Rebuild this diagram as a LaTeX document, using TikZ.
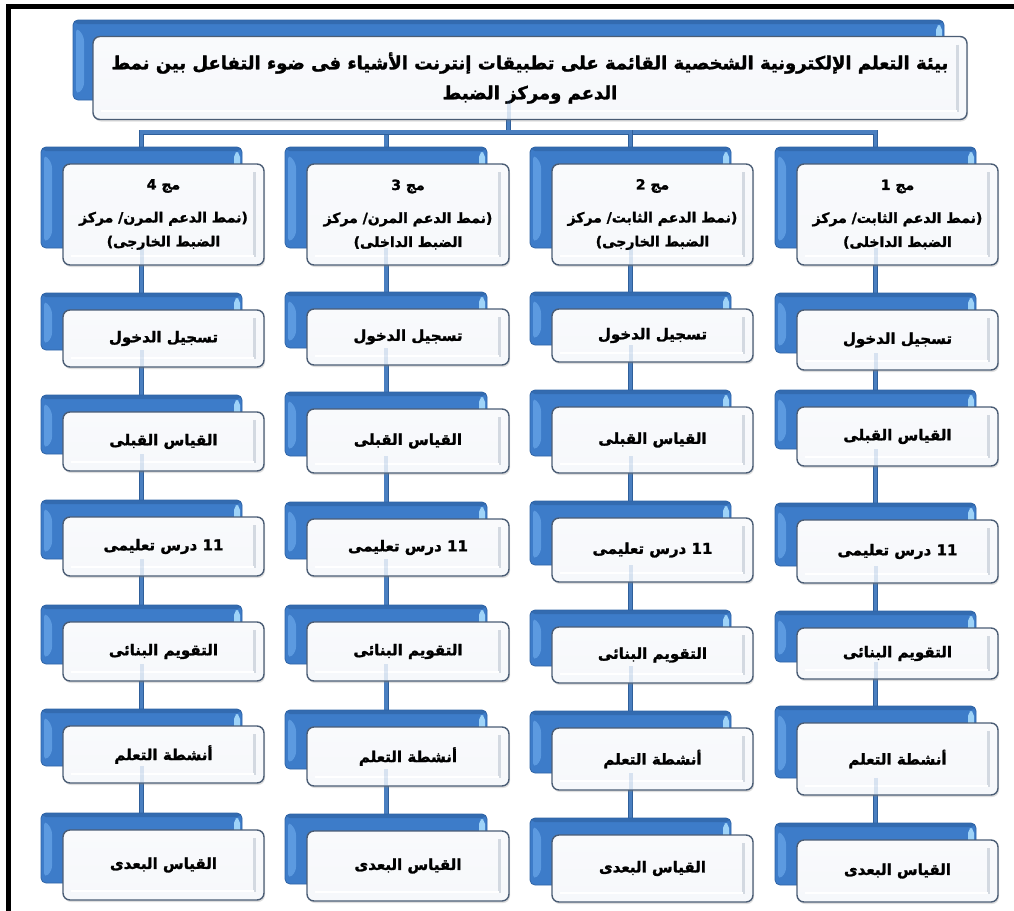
\documentclass[tikz,border=0pt]{standalone}
\usepackage{fontspec}
\TeXXeTstate=1
\newfontfamily\arabicfont[Script=Arabic, BoldFeatures={FakeBold=1.6}]{DejaVu Sans}
\usetikzlibrary{shadows}
\definecolor{bluefill}{HTML}{3D7CC9}
\definecolor{blueedge}{HTML}{2F64A6}
\definecolor{bluelight}{HTML}{9ED3F8}
\definecolor{bluebevel}{HTML}{5C9AE0}
\definecolor{whitetop}{HTML}{F9FAFC}
\definecolor{whitemid}{HTML}{E6ECF5}
\definecolor{whitebot}{HTML}{F6F8FB}
\definecolor{whiteedge}{HTML}{4B5D75}
\definecolor{bevelgray}{HTML}{D3D9E1}
\definecolor{connblue}{HTML}{4A7FC0}
\definecolor{connedge}{HTML}{2F5F9A}
\newcommand\artxt[1]{\beginR #1\endR}
\pgfdeclarelayer{back}
\pgfdeclarelayer{bg}
\pgfsetlayers{back,bg,main}
\tikzset{
  bluebox/.style={draw=blueedge, line width=0.8pt, fill=bluefill, rounded corners=5pt,
    inner sep=0pt, outer sep=0pt,
    path picture={
      \fill[bluebevel] ([xshift=3pt,yshift=-7pt]path picture bounding box.north west) --
        ([xshift=11pt,yshift=-16pt]path picture bounding box.north west) --
        ([xshift=11pt,yshift=12pt]path picture bounding box.south west) --
        ([xshift=3pt,yshift=5pt]path picture bounding box.south west) -- cycle;
      \fill[bluelight] ([xshift=-8pt,yshift=-5pt]path picture bounding box.north east) rectangle
        ([xshift=-2pt,yshift=5pt]path picture bounding box.south east);
      \fill[blueedge!70!bluefill] (path picture bounding box.north west) rectangle
        ([yshift=-4pt]path picture bounding box.north east);
    }},
  whitebox/.style={draw=whiteedge, line width=1.4pt, rounded corners=7pt,
    top color=whitetop, middle color=whitemid, bottom color=whitebot,
    inner sep=2pt, outer sep=0pt, align=center, text=black,
    drop shadow={opacity=0.25, shadow xshift=1pt, shadow yshift=-2pt},
    path picture={
      \draw[bevelgray, line width=3pt] ([xshift=-10pt,yshift=-8pt]path picture bounding box.north east) --
        ([xshift=-10pt,yshift=8pt]path picture bounding box.south east);
      \draw[white, line width=2pt] ([xshift=8pt,yshift=9pt]path picture bounding box.south west) --
        ([xshift=-10pt,yshift=9pt]path picture bounding box.south east);
    }},
  conn/.style={draw=connedge, line width=0.8pt, double=connblue, double distance=3.4pt},
  faintconn/.style={draw=connblue, line width=4pt, opacity=0.18},
  lbl/.style={font=\arabicfont\bfseries\fontsize{15}{20}\selectfont},
  grp/.style={font=\arabicfont\bfseries\fontsize{14}{24}\selectfont},
  ttl/.style={font=\arabicfont\bfseries\fontsize{18}{30}\selectfont},
}
% #1 name suffix, #2 left, #3 right, #4 top, #5 bottom, #6 style, #7 text
\newcommand\mkpair[7]{%
  \pgfmathsetmacro\cx{(#2+#3)/2}%
  \pgfmathsetmacro\cy{(#4+#5)/2}%
  \pgfmathsetmacro\ww{#3-#2}%
  \pgfmathsetmacro\hh{#5-#4}%
  \node[bluebox, minimum width=\ww pt, minimum height=\hh pt] (b#1) at (\cx-22,\cy-17) {};
  \node[whitebox, #6, minimum width=\ww pt, minimum height=\hh pt] (w#1) at (\cx,\cy) {#7};
}
\begin{document}
\begin{tikzpicture}[x=1pt,y=-1pt]
\useasboundingbox (0,0) rectangle (1014,910);
\begin{pgfonlayer}{back}
\fill[white] (0,0) rectangle (1014,910);
\end{pgfonlayer}
% frame
\draw[black, line width=5.5pt] (8.5,915) -- (8.5,6.5) -- (1020,6.5);

% title
\node[bluebox, minimum width=871pt, minimum height=80pt] (tb) at (508.5,60) {};
\node[whitebox, ttl, minimum width=874pt, minimum height=83pt] (tw) at (530,78)
  {\artxt{بيئة التعلم الإلكترونية الشخصية القائمة على تطبيقات إنترنت الأشياء فى ضوء التفاعل بين نمط}\\
   \artxt{الدعم ومركز الضبط}};

% groups row
\mkpair{10}{797}{998}{164}{265}{grp}{\artxt{مج 1}\\[9pt]\artxt{(نمط الدعم الثابت/ مركز}\\\artxt{الضبط الداخلى)}}
\mkpair{20}{552}{753}{164}{265}{grp}{\artxt{مج 2}\\[9pt]\artxt{(نمط الدعم الثابت/ مركز}\\\artxt{الضبط الخارجى)}}
\mkpair{30}{307}{509}{164}{265}{grp}{\artxt{مج 3}\\[9pt]\artxt{(نمط الدعم المرن/ مركز}\\\artxt{الضبط الداخلى)}}
\mkpair{40}{63}{264}{164}{265}{grp}{\artxt{مج 4}\\[9pt]\artxt{(نمط الدعم المرن/ مركز}\\\artxt{الضبط الخارجى)}}

% column 1 (right)
\mkpair{11}{797}{998}{310}{370}{lbl}{\artxt{تسجيل الدخول}}
\mkpair{12}{797}{998}{407}{466}{lbl}{\artxt{القياس القبلى}}
\mkpair{13}{797}{998}{520}{583}{lbl}{\artxt{11 درس تعليمى}}
\mkpair{14}{797}{998}{628}{679}{lbl}{\artxt{التقويم البنائى}}
\mkpair{15}{797}{998}{723}{795}{lbl}{\artxt{أنشطة التعلم}}
\mkpair{16}{797}{998}{840}{902}{lbl}{\artxt{القياس البعدى}}
% column 2
\mkpair{21}{552}{753}{309}{362}{lbl}{\artxt{تسجيل الدخول}}
\mkpair{22}{552}{753}{407}{473}{lbl}{\artxt{القياس القبلى}}
\mkpair{23}{552}{753}{518}{582}{lbl}{\artxt{11 درس تعليمى}}
\mkpair{24}{552}{753}{627}{683}{lbl}{\artxt{التقويم البنائى}}
\mkpair{25}{552}{753}{728}{790}{lbl}{\artxt{أنشطة التعلم}}
\mkpair{26}{552}{753}{835}{902}{lbl}{\artxt{القياس البعدى}}
% column 3
\mkpair{31}{307}{509}{309}{365}{lbl}{\artxt{تسجيل الدخول}}
\mkpair{32}{307}{509}{409}{473}{lbl}{\artxt{القياس القبلى}}
\mkpair{33}{307}{509}{519}{576}{lbl}{\artxt{11 درس تعليمى}}
\mkpair{34}{307}{509}{622}{681}{lbl}{\artxt{التقويم البنائى}}
\mkpair{35}{307}{509}{727}{786}{lbl}{\artxt{أنشطة التعلم}}
\mkpair{36}{307}{509}{831}{901}{lbl}{\artxt{القياس البعدى}}
% column 4 (left)
\mkpair{41}{63}{264}{310}{367}{lbl}{\artxt{تسجيل الدخول}}
\mkpair{42}{63}{264}{412}{471}{lbl}{\artxt{القياس القبلى}}
\mkpair{43}{63}{264}{517}{576}{lbl}{\artxt{11 درس تعليمى}}
\mkpair{44}{63}{264}{622}{681}{lbl}{\artxt{التقويم البنائى}}
\mkpair{45}{63}{264}{726}{783}{lbl}{\artxt{أنشطة التعلم}}
\mkpair{46}{63}{264}{830}{900}{lbl}{\artxt{القياس البعدى}}

% connectors
\coordinate (hub) at (508.5,132);
\begin{pgfonlayer}{bg}
  \draw[conn] (tb.center) -- (hub);
  \foreach \c in {1,...,4}{
    \draw[conn] (hub) -| (b\c0.center);
    \foreach \r [evaluate=\r as \n using int(\r+1)] in {0,...,5}{
      \draw[conn] (b\c\r.center) -- (b\c\n.center);
    }
  }
\end{pgfonlayer}
% faint connector seen through the lower part of the white boxes
\draw[faintconn] (tb.south) -- (tb.south |- tw.south);
\foreach \c in {1,...,4}{
  \foreach \r in {0,...,5}{
    \draw[faintconn] (b\c\r.south) -- (b\c\r.south |- w\c\r.south);
  }
}
\end{tikzpicture}
\end{document}
